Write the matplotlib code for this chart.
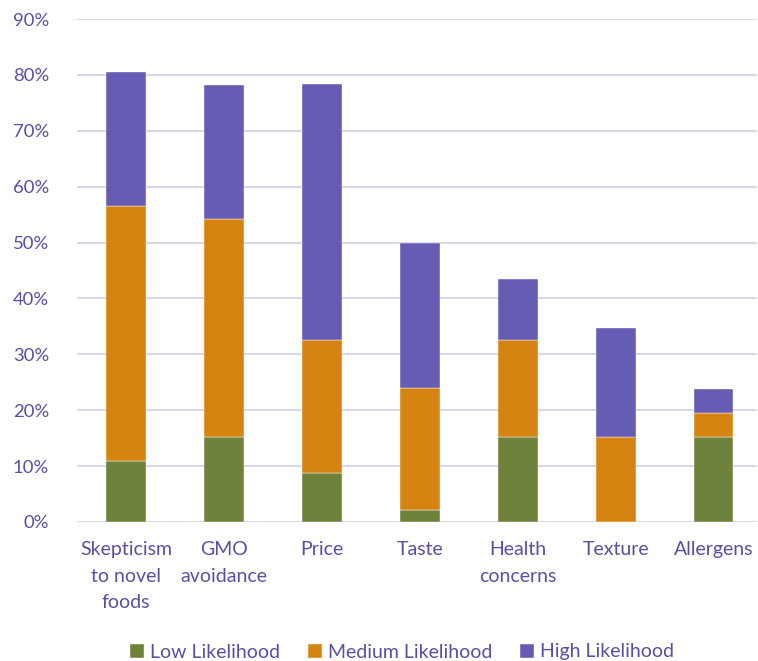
import numpy as np
import matplotlib
matplotlib.use("Agg")
import matplotlib.pyplot as plt
from matplotlib.ticker import PercentFormatter

# dados (% dos respondentes)
categorias = ["Skepticism\nto novel\nfoods", "GMO\navoidance", "Price", "Taste",
              "Health\nconcerns", "Texture", "Allergens"]
baixa = [10.9, 15.2, 8.7, 2.2, 15.2, 0.0, 15.2]
media = [45.7, 39.1, 23.9, 21.7, 17.4, 15.2, 4.3]
alta = [23.9, 23.9, 45.7, 26.1, 10.9, 19.6, 4.3]
series = ["Low Likelihood", "Medium Likelihood", "High Likelihood"]

COR_TXT = "#5A4FA0"
CORES = ["#6E823C", "#D58412", "#675CB4"]

plt.rcParams["font.family"] = ["Lato", "DejaVu Sans"]

fig = plt.figure(figsize=(7.58, 6.61), dpi=100)
ax = fig.add_axes([77 / 758, 1 - 522 / 661, 680 / 758, (522 - 19) / 661])

x = np.arange(len(categorias))
base = np.zeros(len(categorias))
for nome, vals, cor in zip(series, [baixa, media, alta], CORES):
    vals = np.array(vals)
    ax.bar(x, vals, 0.4, bottom=base, color=cor, label=nome, zorder=3,
           edgecolor="white", linewidth=0.3)
    base += vals

ax.set_ylim(0, 90)
ax.set_yticks(np.arange(0, 91, 10))
ax.yaxis.set_major_formatter(PercentFormatter(decimals=0))
ax.set_xlim(-0.5, 6.44)
ax.set_xticks(x)
ax.set_xticklabels(categorias, linespacing=1.65)
ax.grid(axis="y", color="#D9D6EA", linewidth=1.4, zorder=0)
for s in ax.spines.values():
    s.set_visible(False)
ax.tick_params(length=0, colors=COR_TXT)
ax.tick_params(axis="x", labelsize=14, pad=14)
ax.tick_params(axis="y", labelsize=13.3, pad=20)

fig.legend(loc="center", bbox_to_anchor=(402 / 758, 1 - 652 / 661), ncol=3,
           frameon=False, fontsize=14, labelcolor=COR_TXT,
           handlelength=0.7, handleheight=0.7, handletextpad=0.3,
           columnspacing=1.45)

fig.savefig("out.png", dpi=100)
